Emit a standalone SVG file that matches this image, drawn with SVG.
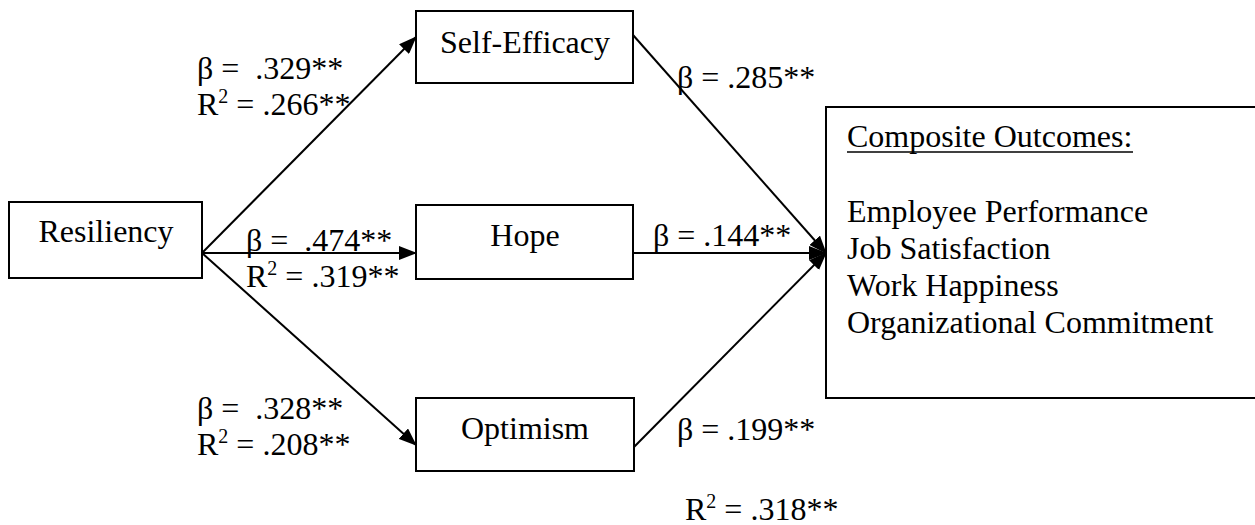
<svg xmlns="http://www.w3.org/2000/svg" width="1255" height="525" viewBox="0 0 1255 525">
<style>
.box{fill:#fff;stroke:#000;stroke-width:2}
.t{font-family:"Liberation Serif","Times New Roman",serif;font-size:32px;fill:#000}
.c{text-anchor:middle}
.ln{stroke:#000;stroke-width:2;fill:none}
.sup{font-size:20px}
</style>
<defs>
<marker id="ahb" markerWidth="18" markerHeight="14" refX="17" refY="7" orient="auto" markerUnits="userSpaceOnUse" viewBox="0 0 18 14">
<path d="M0,0 L18,7 L0,14 z" fill="#000"/>
</marker>
</defs>
<rect width="1255" height="525" fill="#fff"/>
<g id="connectors">
<line class="ln" x1="202" y1="253" x2="416" y2="37" marker-end="url(#ahb)"/>
<line class="ln" x1="202" y1="253" x2="416" y2="253" marker-end="url(#ahb)"/>
<line class="ln" x1="202" y1="253" x2="416" y2="445" marker-end="url(#ahb)"/>
<line class="ln" x1="633" y1="35" x2="826" y2="253" marker-end="url(#ahb)"/>
<line class="ln" x1="633" y1="253" x2="826" y2="253" marker-end="url(#ahb)"/>
<line class="ln" x1="634" y1="447" x2="826" y2="253" marker-end="url(#ahb)"/>
</g>
<g id="resiliency">
<rect class="box" x="9" y="202" width="193" height="76"/>
<text class="t c" x="106" y="242">Resiliency</text>
</g>
<g id="self-efficacy">
<rect class="box" x="416" y="11" width="217" height="72"/>
<text class="t c" x="525" y="53">Self-Efficacy</text>
</g>
<g id="hope">
<rect class="box" x="416" y="205" width="217" height="74"/>
<text class="t c" x="525" y="246">Hope</text>
</g>
<g id="optimism">
<rect class="box" x="416" y="398" width="218" height="73"/>
<text class="t c" x="525" y="439">Optimism</text>
</g>
<g id="composite">
<rect class="box" x="826" y="107" width="460" height="291"/>
<text class="t" x="847" y="147">Composite Outcomes:</text>
<line x1="847" y1="152" x2="1133" y2="152" stroke="#000" stroke-width="1.5"/>
<text class="t" x="847" y="222">Employee Performance</text>
<text class="t" x="847" y="259">Job Satisfaction</text>
<text class="t" x="847" y="296">Work Happiness</text>
<text class="t" x="847" y="333">Organizational Commitment</text>
</g>
<g id="labels">
<text class="t" x="197" y="79" xml:space="preserve">β =  .329**</text>
<text class="t" x="197" y="115">R<tspan class="sup" dy="-12">2</tspan><tspan dy="12"> = .266**</tspan></text>
<text class="t" x="677" y="88">β = .285**</text>
<text class="t" x="246" y="251" xml:space="preserve">β =  .474**</text>
<text class="t" x="246" y="287">R<tspan class="sup" dy="-12">2</tspan><tspan dy="12"> = .319**</tspan></text>
<text class="t" x="653" y="246">β = .144**</text>
<text class="t" x="197" y="419" xml:space="preserve">β =  .328**</text>
<text class="t" x="197" y="455">R<tspan class="sup" dy="-12">2</tspan><tspan dy="12"> = .208**</tspan></text>
<text class="t" x="677" y="440">β = .199**</text>
<text class="t" x="685" y="520">R<tspan class="sup" dy="-12">2</tspan><tspan dy="12"> = .318**</tspan></text>
</g>
</svg>
